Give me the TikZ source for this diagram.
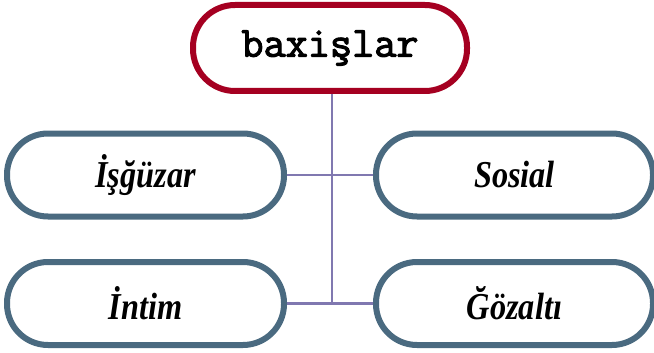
\documentclass[tikz,border=0pt]{standalone}
\usepackage{fontspec}
\setmainfont{Liberation Serif}
\newfontfamily\leaffont{Liberation Serif}[FakeStretch=0.85]
\newfontfamily\rootfont{Latin Modern Mono}[FakeBold=2.5]
\definecolor{rootred}{HTML}{A50021}
\definecolor{leafblue}{HTML}{4A6A80}
\definecolor{linkviolet}{HTML}{8078B0}
\tikzset{
	root/.style={draw=rootred, line width=6pt, fill=white, rounded corners=42pt,
		minimum width=274pt, minimum height=86pt,
		font=\fontsize{43}{46}\selectfont\rootfont},
	leaf/.style={draw=leafblue, line width=6pt, fill=white, rounded corners=41pt,
		minimum width=277pt, minimum height=83pt,
		font=\fontsize{38}{41}\selectfont\leaffont\bfseries\itshape},
	link/.style={draw=linkviolet, line width=2.2pt}
}

\begin{document}
\begin{tikzpicture}[x=1pt,y=-1pt]
	\useasboundingbox (0,0) rectangle (654,353);
	% categories
	\node[root] (baxislar) at (330,48) {baxişlar};
	\node[leaf] (isguzar) at (145.5,175) {İşğüzar};
	\node[leaf] (sosial) at (514.5,175) {Sosial};
	\node[leaf] (intim) at (145.5,303.5) {İntim};
	\node[leaf] (gozalti) at (514.5,303.5) {Ğözaltı};
	% connectors
	\coordinate (foot) at (332,303.5);
	\draw[link] (baxislar.south -| foot) -- (foot);
	\draw[link] (isguzar.east) -- (sosial.west);
	\draw[link] (intim.east) -- (gozalti.west);
\end{tikzpicture}
\end{document}
